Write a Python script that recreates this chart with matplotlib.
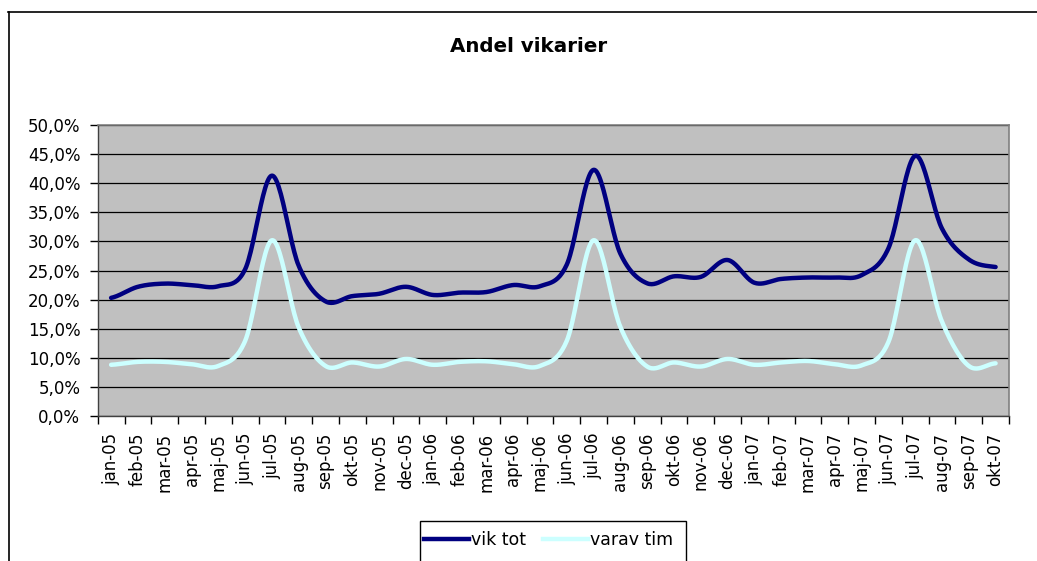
import matplotlib

matplotlib.use("Agg")
import matplotlib.pyplot as plt
from matplotlib.patches import Rectangle
from matplotlib.lines import Line2D
import numpy as np

# monthly values, percent
months = [
    "jan-05", "feb-05", "mar-05", "apr-05", "maj-05", "jun-05", "jul-05",
    "aug-05", "sep-05", "okt-05", "nov-05", "dec-05",
    "jan-06", "feb-06", "mar-06", "apr-06", "maj-06", "jun-06", "jul-06",
    "aug-06", "sep-06", "okt-06", "nov-06", "dec-06",
    "jan-07", "feb-07", "mar-07", "apr-07", "maj-07", "jun-07", "jul-07",
    "aug-07", "sep-07", "okt-07",
]
vik_tot = [
    20.3, 22.2, 22.75, 22.5, 22.3, 25.2, 41.3, 25.8, 19.7, 20.6, 21.0, 22.2,
    20.8, 21.2, 21.3, 22.5, 22.3, 26.0, 42.3, 27.9, 22.8, 24.0, 23.9, 26.8,
    22.9, 23.55, 23.8, 23.8, 24.2, 28.8, 44.7, 32.2, 26.9, 25.6,
]
varav_tim = [
    8.8, 9.3, 9.3, 8.9, 8.6, 12.9, 30.2, 15.2, 8.6, 9.2, 8.5, 9.8,
    8.8, 9.3, 9.4, 8.9, 8.6, 12.9, 30.2, 15.3, 8.5, 9.2, 8.5, 9.8,
    8.8, 9.2, 9.45, 8.9, 8.7, 12.7, 30.2, 16.2, 8.6, 9.05,
]
y_ticks = [0, 5, 10, 15, 20, 25, 30, 35, 40, 45, 50]


def smooth(y, n=24):
    # excel-style smoothed line (catmull-rom through the points)
    y = np.asarray(y, float)
    p = np.concatenate([[y[0]], y, [y[-1]]])
    t = np.linspace(0, 1, n, endpoint=False)
    xs, ys = [], []
    for i in range(len(y) - 1):
        p0, p1, p2, p3 = p[i], p[i + 1], p[i + 2], p[i + 3]
        m1 = (p2 - p0) / 2
        m2 = (p3 - p1) / 2
        h = (
            (2 * t**3 - 3 * t**2 + 1) * p1
            + (t**3 - 2 * t**2 + t) * m1
            + (-2 * t**3 + 3 * t**2) * p2
            + (t**3 - t**2) * m2
        )
        xs.append(i + t)
        ys.append(h)
    xs.append([len(y) - 1])
    ys.append([y[-1]])
    return np.concatenate(xs), np.concatenate(ys)


W, H = 1037, 561
FS = 12
plt.rcParams["font.family"] = ["DejaVu Sans"]
fig = plt.figure(figsize=(W / 100, H / 100), dpi=100, facecolor="white")

# outer chart frame: only top and left edges fall inside the picture
fig.add_artist(Line2D([8 / W, 1.0], [1 - 11.5 / H] * 2, color="black",
                      linewidth=1.2, transform=fig.transFigure, zorder=10))
fig.add_artist(Line2D([8.5 / W] * 2, [-0.01, 1 - 11.5 / H], color="black",
                      linewidth=1.2, transform=fig.transFigure, zorder=10))

left, right, top, bottom = 97.7, 1009, 125, 416
ax = fig.add_axes([left / W, 1 - bottom / H, (right - left) / W, (bottom - top) / H])
ax.set_facecolor("#C0C0C0")

x = np.arange(len(months))
sx, sy = smooth(vik_tot)
ax.plot(sx, sy, color="#000080", linewidth=3.2, solid_capstyle="round", zorder=3)
sx, sy = smooth(varav_tim)
ax.plot(sx, sy, color="#CCFFFF", linewidth=3.2, solid_capstyle="round", zorder=3)

ax.set_xlim(-0.5, len(months) - 0.5)
ax.set_ylim(0, 50)
ax.set_yticks(y_ticks)
ax.set_yticklabels([("%.1f" % v).replace(".", ",") + "%" for v in y_ticks])
ax.yaxis.grid(True, color="black", linewidth=0.9)
ax.set_axisbelow(True)

ax.set_xticks(x)
ax.set_xticklabels(months, rotation=90)
ax.set_xticks(np.arange(len(months) + 1) - 0.5, minor=True)
ax.tick_params(axis="x", which="major", length=0, pad=12, labelsize=FS)
ax.tick_params(axis="x", which="minor", length=5.5, width=1, direction="out")
ax.tick_params(axis="y", length=5.5, width=1, direction="out", pad=7, labelsize=FS)

for s in ["top", "right"]:
    ax.spines[s].set_color("#808080")
    ax.spines[s].set_linewidth(1.2)
for s in ["left", "bottom"]:
    ax.spines[s].set_color("#404040")
    ax.spines[s].set_linewidth(1.0)

fig.text(529 / W, 1 - 46 / H, "Andel vikarier", ha="center", va="center",
         fontsize=14.3, fontweight="bold")

# legend box
fig.patches.append(
    Rectangle((420 / W, 1 - 600 / H), (686 - 420) / W, (600 - 521) / H,
              transform=fig.transFigure, fill=True, facecolor="white",
              edgecolor="black", linewidth=1.0)
)
handles = [
    Line2D([], [], color="#000080", linewidth=3.2),
    Line2D([], [], color="#CCFFFF", linewidth=3.2),
]
fig.legend(handles, ["vik tot", "varav tim"], loc="center left",
           bbox_to_anchor=(424 / W, 1 - 540 / H), ncol=2, frameon=False,
           fontsize=12.5, handlelength=2.6, handletextpad=0.1,
           columnspacing=1.0, borderpad=0, borderaxespad=0)

fig.savefig("out.png", dpi=100, facecolor="white")
